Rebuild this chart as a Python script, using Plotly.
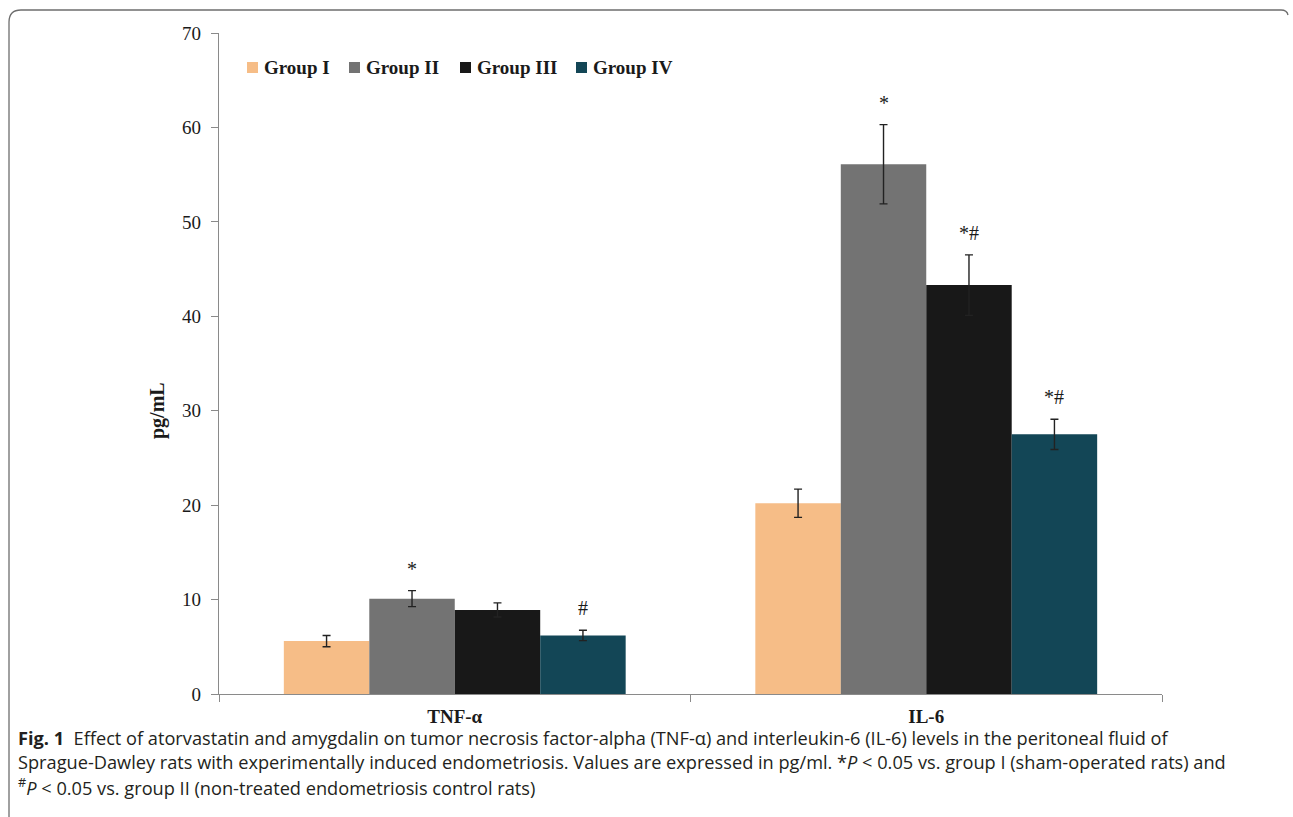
import plotly.graph_objects as go

# ---- data -------------------------------------------------------------
categories = ["TNF-α", "IL-6"]
groups = ["Group I", "Group II", "Group III", "Group IV"]

group1 = [5.6, 20.2]
group2 = [10.1, 56.1]
group3 = [8.9, 43.3]
group4 = [6.2, 27.5]

group1_err = [0.6, 1.5]
group2_err = [0.85, 4.2]
group3_err = [0.75, 3.2]
group4_err = [0.55, 1.6]

# significance marks: * vs group I, # vs group II
group1_sig = ["", ""]
group2_sig = ["*", "*"]
group3_sig = ["", "*#"]
group4_sig = ["#", "*#"]

y_ticks = [0, 10, 20, 30, 40, 50, 60, 70]

values = [group1, group2, group3, group4]
errors = [group1_err, group2_err, group3_err, group4_err]
sigs = [group1_sig, group2_sig, group3_sig, group4_sig]
colors = ["#F6BD87", "#737373", "#181818", "#134656"]

# ---- geometry ---------------------------------------------------------
FIG_W, FIG_H = 1293, 817
L, R, T, B = 219, 1162, 33, 694
BARGAP = 0.275


def px(x):
    return (x - L) / (R - L)


def py(y):
    return (B - y) / (B - T)


SERIF = "Liberation Serif"
SANS = "Open Sans"
INK = "#1a1a1a"
AXIS = "#8a8a8a"

fig = go.Figure()

for name, vals, errs, col in zip(groups, values, errors, colors):
    fig.add_trace(go.Bar(
        name=name, x=categories, y=vals,
        marker=dict(color=col, line=dict(width=0)),
        error_y=dict(type="data", array=errs, visible=True,
                     color="#222222", thickness=1.4, width=4),
        showlegend=False,
    ))

# significance labels above the error bars
bar_w = (1 - BARGAP) / len(groups)
annotations = []
for gi, (vals, errs, marks) in enumerate(zip(values, errors, sigs)):
    for ci, mark in enumerate(marks):
        if not mark:
            continue
        annotations.append(dict(
            x=ci + (gi - (len(groups) - 1) / 2) * bar_w,
            y=vals[ci] + errs[ci], xref="x", yref="y",
            text=mark, showarrow=False, yanchor="bottom", yshift=9,
            font=dict(family=SERIF, size=20, color=INK),
        ))

# legend row
legend_x = [247, 349, 460, 576]
for name, col, lx in zip(groups, colors, legend_x):
    fig.add_shape(type="rect", xref="paper", yref="paper",
                  x0=px(lx), x1=px(lx + 11), y0=py(73), y1=py(62),
                  fillcolor=col, line=dict(width=0))
    annotations.append(dict(
        x=px(lx + 15), y=py(67.5), xref="paper", yref="paper",
        text=name, showarrow=False, xanchor="left", yanchor="middle",
        font=dict(family=SERIF, size=19, color=INK, weight="bold"),
    ))

# y-axis title
annotations.append(dict(
    x=px(157), y=py(411), xref="paper", yref="paper", text="pg/mL",
    textangle=-90, showarrow=False, xanchor="center", yanchor="middle",
    font=dict(family=SERIF, size=20, color=INK, weight="bold"),
))

# figure caption
caption_lines = [
    "<b>Fig. 1</b>  Effect of atorvastatin and amygdalin on tumor necrosis factor-alpha (TNF-α) "
    "and interleukin-6 (IL-6) levels in the peritoneal fluid of",
    "Sprague-Dawley rats with experimentally induced endometriosis. Values are expressed in pg/ml. "
    "*<i>P</i> &lt; 0.05 vs. group I (sham-operated rats) and",
    "<sup>#</sup><i>P</i> &lt; 0.05 vs. group II (non-treated endometriosis control rats)",
]
caption_y = [738, 762, 786]
for line, cy in zip(caption_lines, caption_y):
    annotations.append(dict(
        x=px(16), y=py(cy), xref="paper", yref="paper", text=line,
        showarrow=False, xanchor="left", yanchor="middle", align="left",
        font=dict(family=SANS, size=18.2, color="#231f20"),
    ))

# outer frame (top edge and left edge with rounded corner)
frame = (f"M {px(9)} {py(817)} L {px(9)} {py(22)} "
         f"Q {px(9)} {py(10)} {px(21)} {py(10)} "
         f"L {px(1281)} {py(10)} Q {px(1287)} {py(10)} {px(1288)} {py(15)}")
fig.add_shape(type="path", path=frame, xref="paper", yref="paper",
              line=dict(color="#6e6e6e", width=1.3))

fig.update_layout(
    width=FIG_W, height=FIG_H,
    margin=dict(l=L, r=FIG_W - R, t=T, b=FIG_H - B, pad=0),
    paper_bgcolor="white", plot_bgcolor="white",
    barmode="group", bargap=BARGAP, bargroupgap=0,
    annotations=annotations,
    showlegend=False,
    xaxis=dict(
        type="category", showline=True, linecolor=AXIS, linewidth=1.3,
        ticks="outside", tickson="boundaries", ticklen=7, tickcolor=AXIS,
        tickwidth=1.3, showgrid=False, ticklabelstandoff=5,
        tickfont=dict(family=SERIF, size=19, color=INK, weight="bold"),
    ),
    yaxis=dict(
        range=[0, 70], tickvals=y_ticks, showline=True, linecolor=AXIS,
        linewidth=1.3, ticks="outside", ticklen=7, tickcolor=AXIS,
        tickwidth=1.3, showgrid=False, zeroline=False, ticklabelstandoff=6,
        tickfont=dict(family=SERIF, size=19, color=INK),
    ),
)

fig.write_html("out.html")
